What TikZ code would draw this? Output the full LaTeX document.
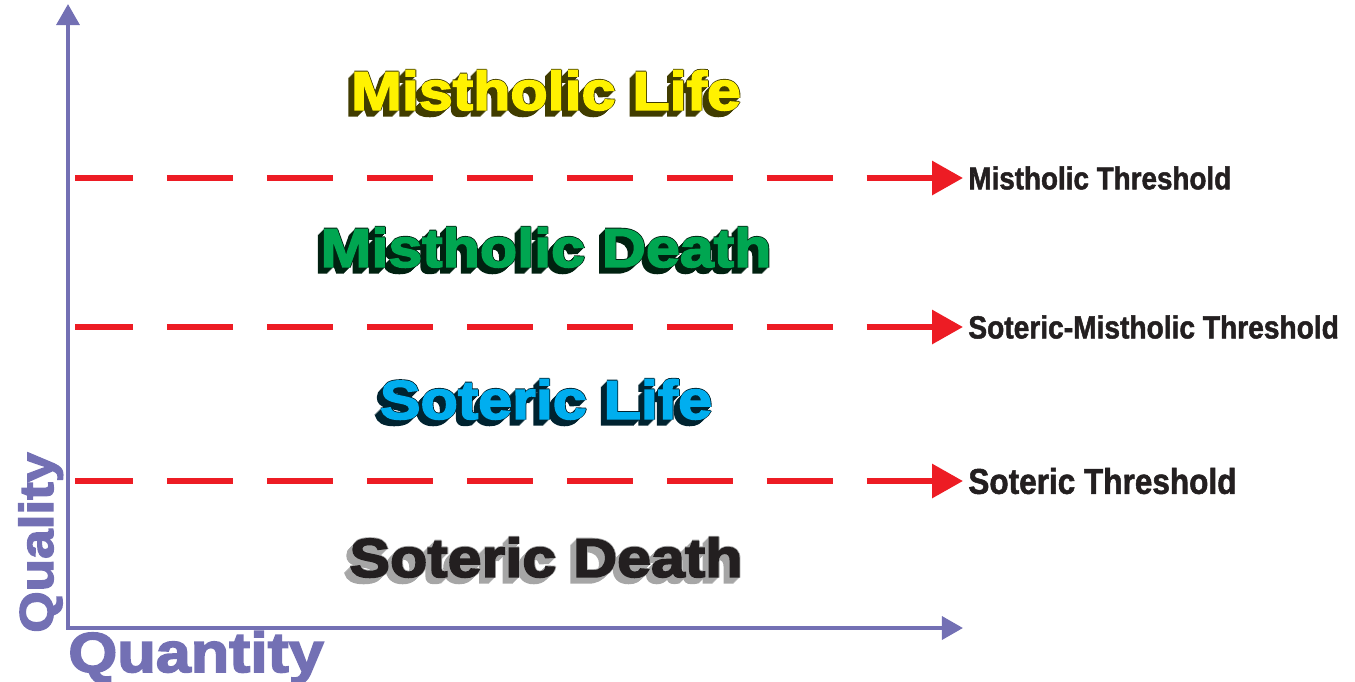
\documentclass[tikz,border=0pt]{standalone}
\usepackage{fontspec}
\setmainfont{Liberation Sans}
\newfontfamily\heavyfont{Liberation Sans}[FakeStretch=1.12,FakeBold=3]
\newfontfamily\narrowfont{Liberation Sans}[FakeStretch=0.88,FakeBold=1.5]
\usetikzlibrary{arrows.meta}

\definecolor{axisblue}{HTML}{7370B4}
\definecolor{threshred}{HTML}{ED1C24}
\definecolor{misyellow}{HTML}{FFF200}
\definecolor{misgreen}{HTML}{00A651}
\definecolor{sotblue}{HTML}{00AEEF}
\definecolor{sotblack}{HTML}{231F20}

\tikzset{
  axis/.style={draw=axisblue, line width=2.3pt,
    {Triangle[length=12pt,width=13pt]}-{Triangle[length=12pt,width=13pt]}},
  threshold/.style={draw=threshred, line width=3.4pt,
    dash pattern=on 37.6pt off 19.3pt, dash phase=4.6pt,
    -{Triangle[length=17.6pt,width=18.8pt]}},
  realm/.style={font=\heavyfont\bfseries\fontsize{31}{36}\selectfont, inner sep=0pt},
  axislabel/.style={font=\heavyfont\bfseries\fontsize{#1}{#1}\selectfont,
    text=axisblue, inner sep=0pt},
  thlabel/.style={font=\narrowfont\bfseries\fontsize{#1}{#1}\selectfont,
    text=sotblack, anchor=west, inner xsep=2.85pt, inner ysep=0pt},
}

% side colour, face colour, text: letters with a block shadow to the lower left
\newcommand\extruded[3]{%
  \foreach \d in {6,...,1}{%
    \rlap{\kern-\d\dimexpr0.57pt\relax\raisebox{-\d\dimexpr0.57pt\relax}{\textcolor{#1}{#3}}}}%
  \rlap{\kern0.5pt\textcolor{#1}{#3}}\rlap{\raisebox{0.5pt}{\textcolor{#1}{#3}}}%
  \textcolor{#2}{#3}}

\begin{document}
\begin{tikzpicture}[x=0.02cm,y=-0.02cm]
  \useasboundingbox (0,0) rectangle (1355,681);
  % axes
  \coordinate (origin) at (68,628);
  \coordinate (qualtop) at (68,4);
  \coordinate (quantend) at (963,628);
  \draw[axis] (qualtop) -- (origin) -- (quantend);
  \node[axislabel=27, rotate=90, anchor=base west] (quality) at (53,633) {Quality};
  \node[axislabel=32, anchor=base west] (quantity) at (68,672) {Quantity};
  % thresholds
  \foreach \y/\name/\size/\txt in {178/mth/18/Mistholic Threshold,
      327/smth/18.2/Soteric-Mistholic Threshold, 481/sth/20.4/Soteric Threshold}{
    \coordinate (\name-start) at (75,\y);
    \node[thlabel=\size] (\name) at (963,\y) {\txt};
    \draw[threshold] (\name-start) -- (\name.west);
  }
  % realms
  \node[realm] (mlife) at (546,93) {\extruded{black!75!misyellow}{misyellow}{Mistholic Life}};
  \node[realm] (mdeath) at (546,250) {\extruded{black!80!misgreen}{misgreen}{Mistholic Death}};
  \node[realm] (slife) at (546,402) {\extruded{black!80!sotblue}{sotblue}{Soteric Life}};
  \node[realm] (sdeath) at (546,560) {\extruded{gray!70}{sotblack}{Soteric Death}};
\end{tikzpicture}
\end{document}
